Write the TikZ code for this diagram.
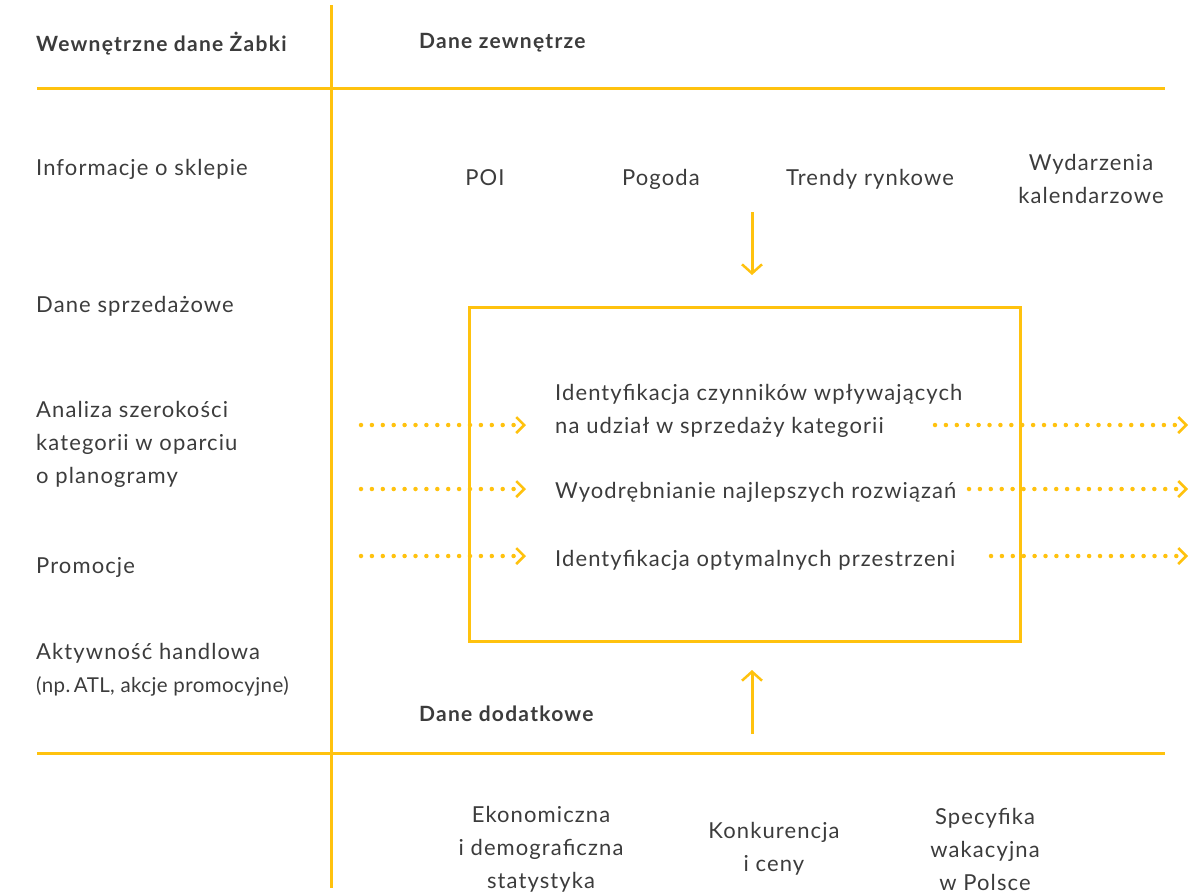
\documentclass[tikz,border=0pt]{standalone}
\usepackage{fontspec}
\setmainfont{Lato}[LetterSpace=5]
\usetikzlibrary{arrows.meta}
\definecolor{zy}{HTML}{FFC20E}
\definecolor{ztxt}{HTML}{3C3C3C}
\tikzset{
  every node/.style={inner sep=0pt, text=ztxt, font=\fontsize{22}{33}\selectfont},
  hdr/.style={font=\bfseries\fontsize{21}{33}\selectfont\addfontfeature{LetterSpace=6}},
  rule/.style={draw=zy, line width=3pt},
  solidarrow/.style={draw=zy, line width=3pt, -{Straight Barb[length=9pt,width=20pt,line width=2.5pt]}},
  dotarrow/.style={draw=zy, line width=4.5pt, line cap=round, dash pattern=on 0pt off 10.9pt,
     -{Straight Barb[length=8pt,width=16pt,line width=2.5pt]}},
}
\begin{document}
\begin{tikzpicture}[x=1pt,y=-1pt]
\useasboundingbox (0,0) rectangle (1193,895);
% grid lines
\coordinate (vt) at (331,5);
\coordinate (vb) at (331,888);
\coordinate (h1l) at (37,88);
\coordinate (h1r) at (1165,88);
\coordinate (h2l) at (37,753);
\coordinate (h2r) at (1165,753);
\draw[rule] (vt) -- (vb);
\draw[rule] (h1l) -- (h1r);
\draw[rule] (h2l) -- (h2r);
% central box
\node[draw=zy, line width=3pt, minimum width=551pt, minimum height=334pt] (box) at (744.5,474) {};
% headers
\node[hdr, anchor=mid west] (hin) at (36,49) {Wewnętrzne dane Żabki};
\node[hdr, anchor=mid west] (hext) at (419,46) {Dane zewnętrze};
\node[hdr, anchor=mid west] (hadd) at (419,719) {Dane dodatkowe};
% internal data
\node[anchor=mid west] (i1) at (36,173) {Informacje o sklepie};
\node[anchor=mid west] (i2) at (36,310) {Dane sprzedażowe};
\node[anchor=west, align=left] (i3) at (36,444) {Analiza szerokości\\kategorii w oparciu\\o planogramy};
\node[anchor=mid west] (i4) at (36,571) {Promocje};
\node[anchor=west, align=left] (i5) at (36,670) {Aktywność handlowa\\{\fontsize{20.5}{33}\selectfont\addfontfeature{LetterSpace=2}(np.\,ATL, akcje promocyjne)}};
% external data
\node[anchor=mid] (e1) at (485,183) {POI};
\node[anchor=mid] (e2) at (661,183) {Pogoda};
\node[anchor=mid] (e3) at (870,183) {Trendy rynkowe};
\node[align=center] (e4) at (1091,179) {Wydarzenia\\kalendarzowe};
% additional data
\node[align=center] (a1) at (541,849) {Ekonomiczna\\i demograficzna\\statystyka};
\node[align=center] (a2) at (774,849) {Konkurencja\\i ceny};
\node[align=center] (a3) at (985,849) {Specyfika\\wakacyjna\\w Polsce};
% box content
\node[anchor=west, align=left] (b1) at (555,411) {Identyfikacja czynników wpływających\\na udział w sprzedaży kategorii};
\node[anchor=mid west] (b2) at (555,496) {Wyodrębnianie najlepszych rozwiązań};
\node[anchor=mid west] (b3) at (555,564) {Identyfikacja optymalnych przestrzeni};
% vertical arrows
\coordinate (dt) at (752,212);
\coordinate (dh) at (752,275);
\coordinate (ub) at (752,734);
\coordinate (uh) at (752,670);
\draw[solidarrow] (dt) -- (dh);
\draw[solidarrow] (ub) -- (uh);
% dotted arrows
\coordinate (l1) at (361,425); \coordinate (l1e) at (526,425);
\coordinate (l2) at (361,489); \coordinate (l2e) at (526,489);
\coordinate (l3) at (361,556); \coordinate (l3e) at (526,556);
\coordinate (r1) at (935,425); \coordinate (r1e) at (1188,425);
\coordinate (r2) at (969,489); \coordinate (r2e) at (1188,489);
\coordinate (r3) at (991,556); \coordinate (r3e) at (1188,556);
\draw[dotarrow] (l1) -- (l1e);
\draw[dotarrow] (l2) -- (l2e);
\draw[dotarrow] (l3) -- (l3e);
\draw[dotarrow] (r1) -- (r1e);
\draw[dotarrow] (r2) -- (r2e);
\draw[dotarrow] (r3) -- (r3e);
\end{tikzpicture}
\end{document}
